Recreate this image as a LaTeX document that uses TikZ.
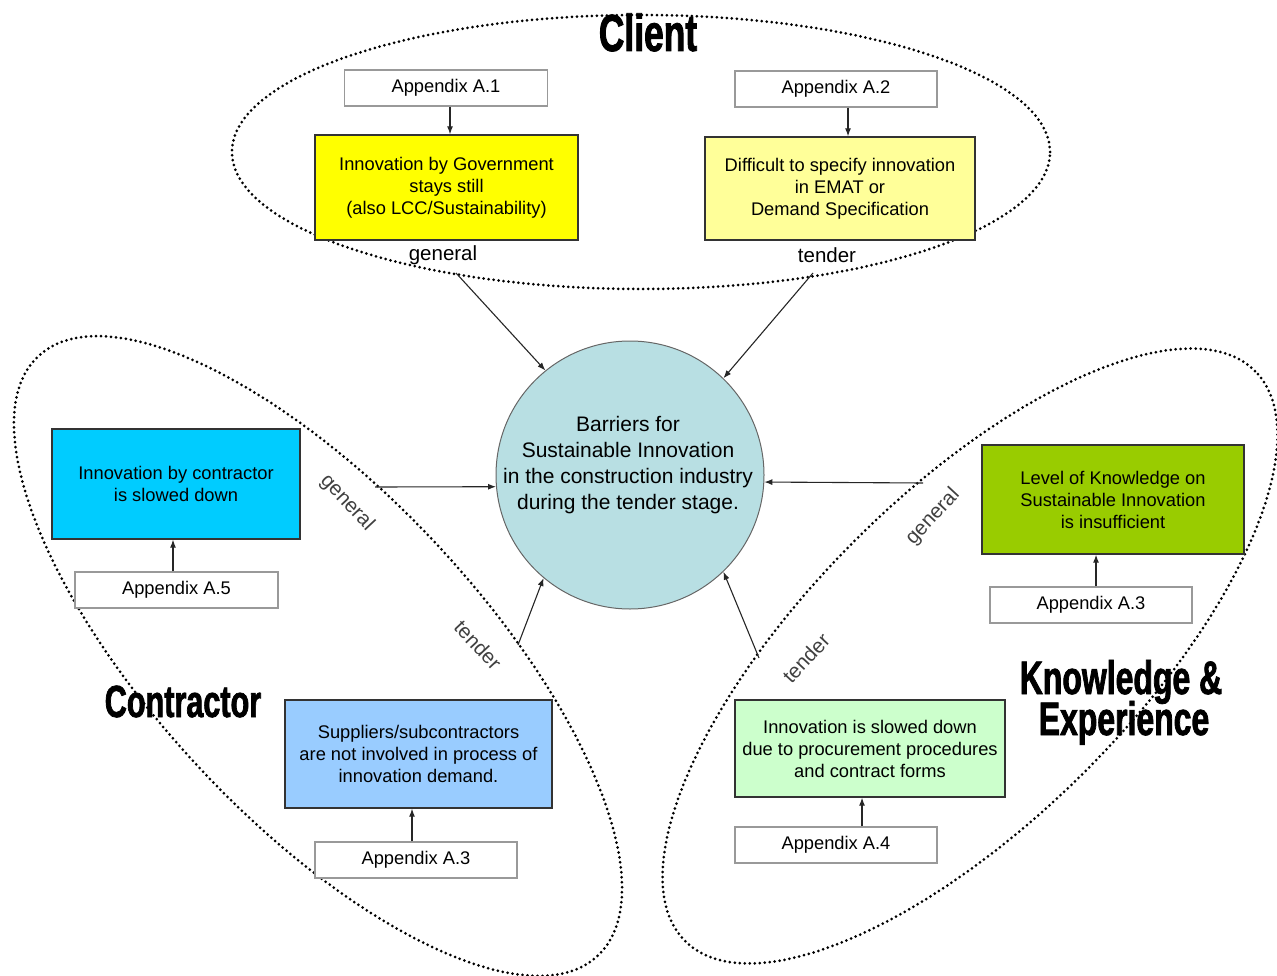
\documentclass[tikz,border=0pt]{standalone}
\usepackage{fontspec}
\usepackage{graphicx}
\setmainfont{Liberation Sans}
\newfontfamily\titlefont{Liberation Sans}[UprightFont=* Bold, FakeStretch=0.68, FakeBold=1.6]
\usetikzlibrary{arrows.meta}

\definecolor{circfill}{HTML}{B8DFE3}
\definecolor{ylwbox}{HTML}{FFFF00}
\definecolor{lylwbox}{HTML}{FFFF99}
\definecolor{cyanbox}{HTML}{00CCFF}
\definecolor{bluebox}{HTML}{99CCFF}
\definecolor{greenbox}{HTML}{99CC00}
\definecolor{lgreenbox}{HTML}{CCFFCC}

\newcommand{\boxfont}{\fontsize{18.3}{22}\selectfont}
\newcommand{\circfont}{\fontsize{21}{26}\selectfont}
\newcommand{\lblfont}{\fontsize{20.5}{24}\selectfont}

\tikzset{
  dotline/.style={line width=3pt, line cap=round, dash pattern=on 0pt off 5pt},
  appbox/.style={draw=black!40, line width=1.3pt, fill=white, minimum width=203pt,
                 minimum height=36pt, inner sep=0pt, font=\boxfont},
  colbox/.style={draw=black!80, line width=1.4pt, align=center, inner sep=0pt, font=\boxfont},
  arr/.style={draw=black!85, line width=1.1pt, -{Latex[length=8pt,width=6pt]}},
  lbl/.style={font=\lblfont, inner sep=0pt},
  rlbl/.style={font=\lblfont, text=black!75, inner sep=0pt},
}

\begin{document}
\begin{tikzpicture}[x=1pt,y=-1pt]
\useasboundingbox (0,0) rectangle (1277,976);

% group titles
\node[font=\titlefont\fontsize{52}{52}\selectfont, anchor=base, inner sep=0pt] (tclient) at (648,51) {Client};
\node[font=\titlefont\fontsize{45}{45}\selectfont, anchor=base, inner sep=0pt] (tcontr) at (183,717) {Contractor};
\node[font=\titlefont\fontsize{47}{47}\selectfont, anchor=base, inner sep=0pt] (tknowa) at (1121,694) {Knowledge \&};
\node[font=\titlefont\fontsize{47}{47}\selectfont, anchor=base, inner sep=0pt] (tknowb) at (1124,735) {Experience};

% dotted group outlines
\begin{scope}
\clip (0,0) rectangle (1277,976);
\draw[dotline] (641,152) ellipse [x radius=409pt, y radius=137pt];
\draw[dotline, rotate around={-47:(318,656)}] (318,656) ellipse [x radius=410pt, y radius=163pt];
\draw[dotline, rotate around={45:(970,656)}] (970,656) ellipse [x radius=403pt, y radius=163pt];
\end{scope}

% central circle
\node[circle, draw=black!60, line width=1pt, fill=circfill, minimum size=268pt, inner sep=0pt] (circ) at (630,475) {};
\node[font=\circfont, align=center, inner sep=0pt] (circtext) at (628,465)
  {Barriers for\\Sustainable Innovation\\in the construction industry\\during the tender stage.};

% client
\node[appbox] (a1) at (446,88) {Appendix A.1};
\node[appbox, minimum width=202pt] (a2) at (836,89) {Appendix A.2};
\node[colbox, fill=ylwbox, minimum width=263pt, minimum height=105pt] (y1) at (446.5,187.5)
  {Innovation by Government\\stays still\\(also LCC/Sustainability)};
\node[colbox, fill=lylwbox, minimum width=270pt, minimum height=103pt] (y2) at (840,188.5)
  {Difficult to specify innovation\\in EMAT or\\Demand Specification};
\node[lbl] (lgen1) at (443,255) {general};
\node[lbl] (lten1) at (827,255) {tender};

% contractor
\node[colbox, fill=cyanbox, minimum width=248pt, minimum height=110pt] (cb) at (176,484)
  {Innovation by contractor\\is slowed down};
\node[appbox] (a5) at (176.5,590) {Appendix A.5};
\node[colbox, fill=bluebox, minimum width=267pt, minimum height=108pt] (bb) at (418.5,754)
  {Suppliers/subcontractors\\are not involved in process of\\innovation demand.};
\node[appbox, minimum width=202pt] (a3c) at (416,860) {Appendix A.3};
\node[rlbl, rotate=-47] (lgen2) at (347,503) {general};
\node[rlbl, rotate=-47] (lten2) at (478,645) {tender};

% knowledge & experience
\node[colbox, fill=greenbox, minimum width=262pt, minimum height=109pt] (gb) at (1113,499.5)
  {Level of Knowledge on\\Sustainable Innovation\\is insufficient};
\node[appbox, minimum width=202pt] (a3k) at (1091,605) {Appendix A.3};
\node[colbox, fill=lgreenbox, minimum width=270pt, minimum height=97pt] (lg) at (870,748.5)
  {Innovation is slowed down\\due to procurement procedures\\and contract forms};
\node[appbox, minimum width=202pt] (a4) at (836,845) {Appendix A.4};
\node[rlbl, rotate=47] (lgen3) at (933,517) {general};
\node[rlbl, rotate=47] (lten3) at (806,658) {tender};

% x positions of the short appendix arrows
\coordinate (xa1) at (450,0);
\coordinate (xa2) at (848,0);
\coordinate (xa5) at (173,0);
\coordinate (xa3c) at (412,0);
\coordinate (xa3k) at (1096,0);
\coordinate (xa4) at (862,0);

\draw[arr] (a1.south -| xa1) -- (y1.north -| xa1);
\draw[arr] (a2.south -| xa2) -- (y2.north -| xa2);
\draw[arr] (a5.north -| xa5) -- (cb.south -| xa5);
\draw[arr] (a3c.north -| xa3c) -- (bb.south -| xa3c);
\draw[arr] (a3k.north -| xa3k) -- (gb.south -| xa3k);
\draw[arr] (a4.north -| xa4) -- (lg.south -| xa4);

% arrows into the central circle
\coordinate (sgen1) at (456,273);
\coordinate (sten1) at (813,273);
\coordinate (sgen2) at (375,487);
\coordinate (sten2) at (518,645);
\coordinate (sgen3) at (923,483);
\coordinate (sten3) at (759,658);

\draw[arr] (sgen1) -- (circ.129);
\draw[arr] (sten1) -- (circ.46.5);
\draw[arr] (sgen2) -- (circ.185);
\draw[arr] (sten2) -- (circ.230.6);
\draw[arr] (sgen3) -- (circ.-3.4);
\draw[arr] (sten3) -- (circ.-46);
\end{tikzpicture}
\end{document}
